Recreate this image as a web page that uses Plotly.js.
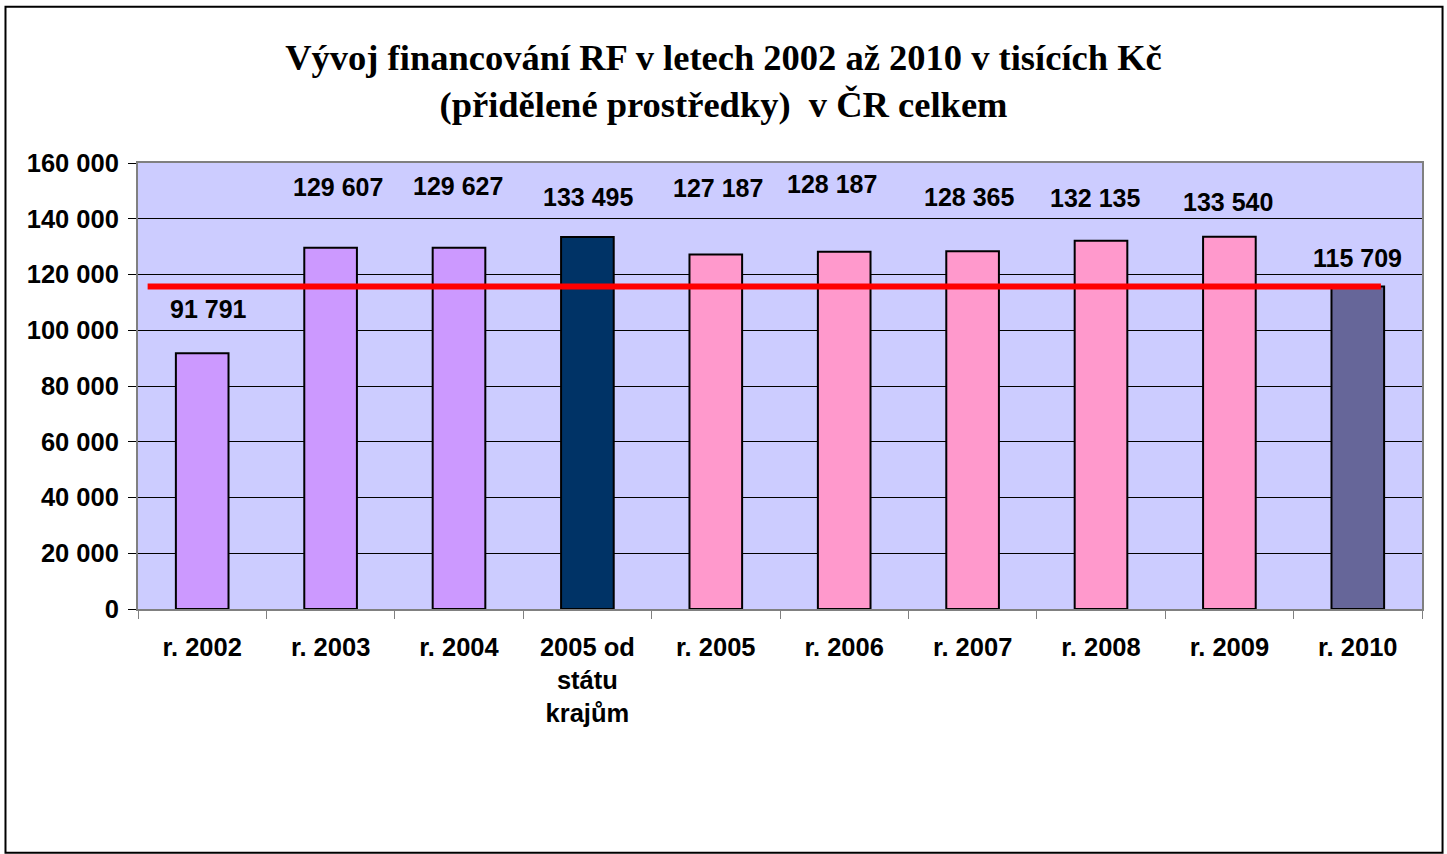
<!DOCTYPE html>
<html>
<head>
<meta charset="utf-8">
<script src="https://cdn.plot.ly/plotly-3.0.1.min.js"></script>
<style>
  html, body { margin: 0; padding: 0; background: #ffffff; }
  #chart { width: 1447px; height: 854px; }
</style>
</head>
<body>
<div id="chart"></div>
<script>
// ---- data ----
const categories = ['r. 2002', 'r. 2003', 'r. 2004', '2005 od<br>státu<br>krajům', 'r. 2005', 'r. 2006', 'r. 2007', 'r. 2008', 'r. 2009', 'r. 2010'];
const values = [91791, 129607, 129627, 133495, 127187, 128187, 128365, 132135, 133540, 115709];
const referenceValue = 115709; // red line level (value of r. 2010)
const yTickValues = [0, 20000, 40000, 60000, 80000, 100000, 120000, 140000, 160000];

// ---- styles ----
const barColors = ['#CC99FF', '#CC99FF', '#CC99FF', '#003366', '#FF99CC', '#FF99CC', '#FF99CC', '#FF99CC', '#FF99CC', '#666699'];
const labelYShift = [44, 61, 62, 40, 66, 68, 54, 43, 35, 28];
const labelXShift = [6, 7, -1, 1, 2, -12, -4, -6, -1, 0];

function fmt(v) {
  return String(v).replace(/\B(?=(\d{3})+(?!\d))/g, ' ');
}

const sans = 'Arial, "Liberation Sans", sans-serif';

const traces = [{
  type: 'bar',
  x: categories,
  y: values,
  marker: { color: barColors, line: { color: '#000000', width: 2 } },
  hoverinfo: 'x+y'
}];

const annotations = categories.map((c, i) => ({
  x: c, y: values[i], xref: 'x', yref: 'y',
  text: fmt(values[i]),
  showarrow: false,
  xanchor: 'center', yanchor: 'middle',
  xshift: labelXShift[i], yshift: labelYShift[i],
  font: { family: sans, size: 25, color: '#000000', weight: 'bold' }
}));

const layout = {
  width: 1447, height: 854,
  margin: { l: 137.5, r: 25, t: 163, b: 245 },
  paper_bgcolor: '#FFFFFF',
  plot_bgcolor: '#CCCCFF',
  separators: ', ',
  showlegend: false,
  bargap: 0.59,
  title: {
    text: 'Vývoj financování RF v letech 2002 až 2010 v tisících Kč<br>(přidělené prostředky)  v ČR celkem',
    font: { family: '"Liberation Serif", "Times New Roman", serif', size: 36.5, color: '#000000', weight: 'bold' },
    x: 0.5, xref: 'container', xanchor: 'center',
    y: 0.918, yref: 'container', yanchor: 'top'
  },
  xaxis: {
    type: 'category',
    tickson: 'boundaries',
    ticks: 'outside', ticklen: 8, tickwidth: 1, tickcolor: '#808080',
    showline: true, linecolor: '#808080', linewidth: 2, mirror: true,
    showgrid: false,
    tickfont: { family: sans, size: 25.5, color: '#000000', weight: 'bold' },
    ticklabelstandoff: 14,
    fixedrange: true
  },
  yaxis: {
    range: [0, 160000],
    tickvals: yTickValues,
    tickformat: ',d',
    ticks: 'outside', ticklen: 8, tickwidth: 1, tickcolor: '#000000',
    showline: true, linecolor: '#808080', linewidth: 2, mirror: true,
    showgrid: true, gridcolor: '#000000', gridwidth: 1,
    zeroline: false,
    tickfont: { family: sans, size: 25.5, color: '#000000', weight: 'bold' },
    ticklabelstandoff: 4,
    fixedrange: true
  },
  annotations: annotations,
  shapes: [
    {
      type: 'line', xref: 'paper', yref: 'y',
      x0: 0.0075, x1: 0.968, y0: referenceValue, y1: referenceValue,
      line: { color: '#FF0000', width: 6 }, layer: 'above'
    },
    {
      type: 'rect', xref: 'paper', yref: 'paper',
      x0: -0.1032, x1: 1.0160, y0: -0.5465, y1: 1.3505,
      line: { color: '#000000', width: 2 }, fillcolor: 'rgba(0,0,0,0)', layer: 'above'
    }
  ]
};

Plotly.newPlot('chart', traces, layout, { displayModeBar: false, staticPlot: true });
</script>
</body>
</html>
